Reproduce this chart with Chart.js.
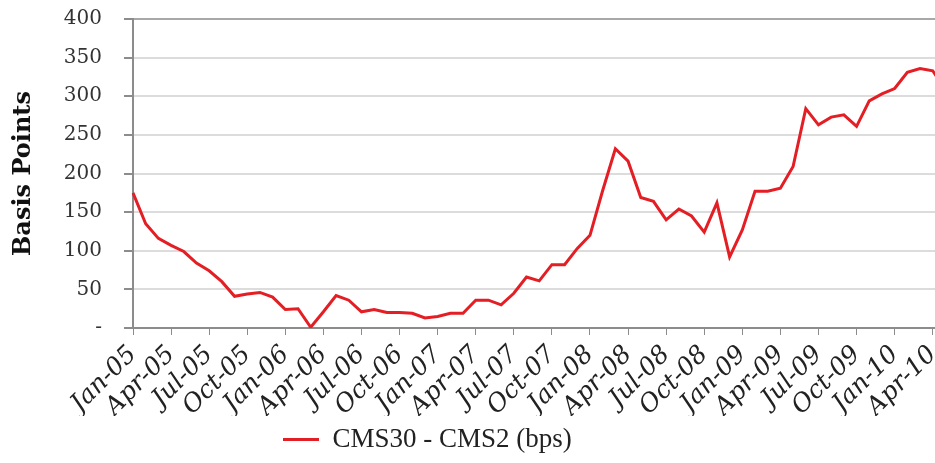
<!DOCTYPE html>
<html>
<head>
<meta charset="utf-8">
<script src="https://cdn.jsdelivr.net/npm/chart.js@4/dist/chart.umd.min.js"></script>
<style>
  html, body { margin: 0; padding: 0; background: #fff; overflow: hidden; }
  #wrap { position: relative; width: 959px; height: 463px; }
</style>
</head>
<body>
<div id="wrap"><canvas id="chart"></canvas></div>
<script>
// CMS30 - CMS2 spread, monthly, Jan-05 .. May-10 (last point runs off the right edge)
const monthNames = ["Jan", "Feb", "Mar", "Apr", "May", "Jun", "Jul", "Aug", "Sep", "Oct", "Nov", "Dec"];
const years = ["05", "06", "07", "08", "09", "10"];
const lastMonthIndex = 4; // May-10

const spread = [
  175, 135, 116, 107, 99, 84, 74, 60, 41, 44, 46, 40,      // 2005
  24, 25, 1, 21, 42, 36, 21, 24, 20, 20, 19, 13,           // 2006
  15, 19, 19, 36, 36, 30, 45, 66, 61, 82, 82, 103,         // 2007
  120, 178, 232, 216, 169, 164, 140, 154, 145, 124, 162, 92, // 2008
  127, 177, 177, 181, 209, 284, 263, 273, 276, 261, 294, 303, // 2009
  310, 331, 336, 333, 308                                  // 2010
];

const yTicks = [0, 50, 100, 150, 200, 250, 300, 350, 400];
const seriesLabel = "CMS30 - CMS2 (bps)";
const yTitle = "Basis Points";

const months = [];
years.forEach((y, yi) => {
  monthNames.forEach((m, mi) => {
    if (yi === years.length - 1 && mi > lastMonthIndex) return;
    months.push(m + "-" + y);
  });
});

// the legend in the source sits left of centre
const legendShift = {
  id: "legendShift",
  afterLayout(chart) {
    const l = chart.legend;
    if (!l) return;
    l.left += 273;
    l.right += 273;
  },
};

new Chart(document.getElementById("chart"), {
  type: "line",
  data: {
    labels: months,
    datasets: [{
      label: seriesLabel,
      data: spread,
      borderColor: "#e31e24",
      backgroundColor: "#e31e24",
      borderWidth: 3,
      pointRadius: 0,
      tension: 0,
    }],
  },
  options: {
    responsive: true,
    maintainAspectRatio: false,
    animation: false,
    layout: { padding: { top: 19, right: 4, bottom: 0, left: 0 } },
    plugins: {
      tooltip: { enabled: false },
      legend: {
        position: "bottom",
        align: "start",
        labels: {
          usePointStyle: true,
          pointStyle: "line",
          pointStyleWidth: 36,
          color: "#222",
          font: { family: "'Liberation Serif', serif", size: 27 },
          padding: 10,
        },
      },
    },
    scales: {
      x: {
        offset: false,
        grid: { drawOnChartArea: false, drawTicks: true, tickLength: 7, color: "#8c8c8c" },
        border: { display: true, color: "#8c8c8c", width: 2 },
        ticks: {
          autoSkip: false,
          minRotation: 45,
          maxRotation: 45,
          padding: 5,
          color: "#222",
          font: { family: "'DejaVu Serif', serif", size: 25, style: "italic" },
          callback: (v, i) => (i % 3 === 0 ? months[i] : null),
        },
        afterFit: (s) => { s.height = 88; },
      },
      y: {
        min: 0,
        max: 400,
        grid: {
          color: (c) => (c.tick && c.tick.value === 400 ? "#a8a8a8" : "#dcdcdc"),
          lineWidth: 2,
          tickColor: "#8c8c8c",
          tickLength: 9,
        },
        border: { display: true, color: "#8c8c8c", width: 2 },
        afterBuildTicks: (s) => { s.ticks = yTicks.map((v) => ({ value: v })); },
        ticks: {
          padding: 22,
          color: "#333",
          font: { family: "'DejaVu Serif', serif", size: 20 },
          callback: (v) => (v === 0 ? "-" : v),
        },
        title: {
          display: true,
          text: yTitle,
          color: "#111",
          font: { family: "'DejaVu Serif', serif", size: 24, weight: "bold" },
          padding: { top: 9, bottom: 0 },
        },
        afterFit: (s) => {
          s.width = 133;
          s.paddingTop = 0;
          s.paddingBottom = 0;
        },
      },
    },
  },
  plugins: [legendShift],
});
</script>
</body>
</html>
